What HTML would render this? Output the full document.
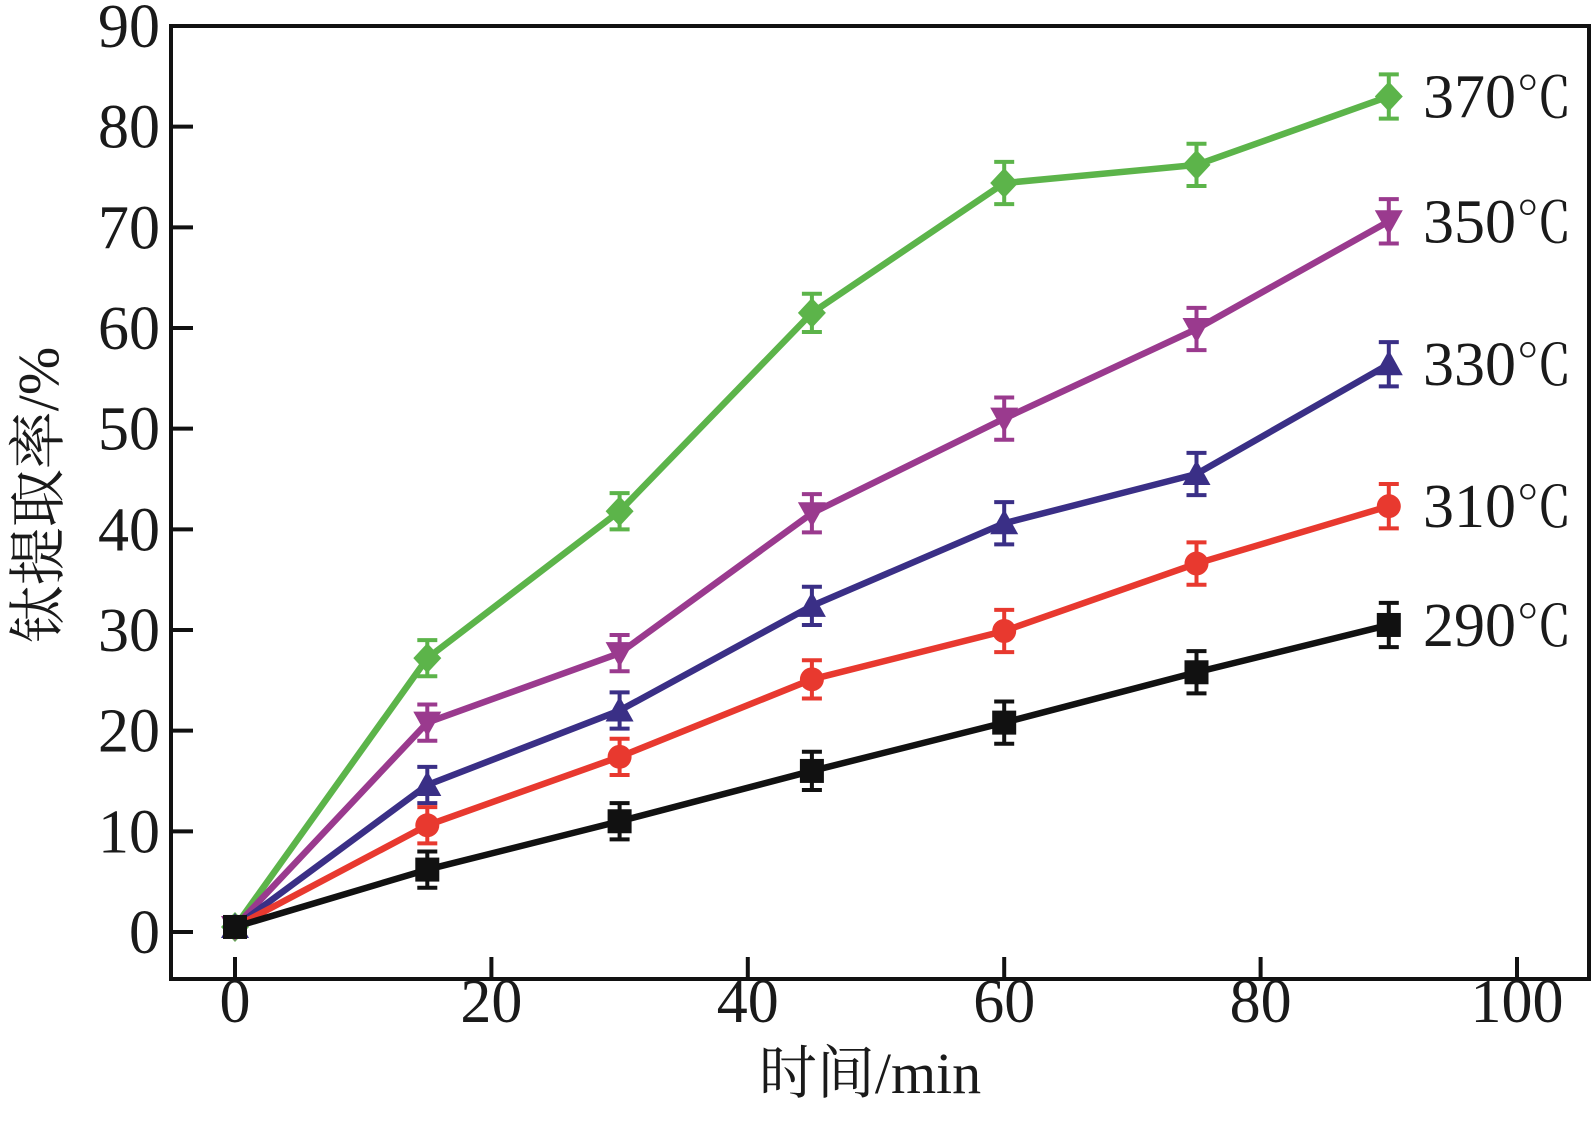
<!DOCTYPE html>
<html><head><meta charset="utf-8"><style>
html,body{margin:0;padding:0;background:#fff;}
svg{display:block;}
text{font-family:"Liberation Serif","Times New Roman",Times,"Noto Serif CJK SC",serif;fill:#1a1a1a;}
.cjk{font-family:"Noto Serif CJK SC","Liberation Serif",serif;}
</style></head><body>
<svg id="chart" width="1592" height="1126" viewBox="0 0 1592 1126">
<g id="axes"></g>
<g id="series"></g>
<g id="labels"></g>
</svg>
<script>
const times = [0, 15, 30, 45, 60, 75, 90];
const seriesNames = ["290", "310", "330", "350", "370"];
const vals290 = [0.5, 6.2, 11.0, 16.0, 20.8, 25.8, 30.5];
const vals310 = [0.5, 10.6, 17.4, 25.1, 29.9, 36.6, 42.3];
const vals330 = [0.5, 14.6, 22.0, 32.4, 40.6, 45.5, 56.4];
const vals350 = [0.5, 20.8, 27.7, 41.6, 51.0, 59.9, 70.6];
const vals370 = [0.5, 27.2, 41.8, 61.5, 74.4, 76.2, 83.0];
const errVals = [0, 1.8, 1.8, 1.9, 2.1, 2.1, 2.2];
const xTicks = [0, 20, 40, 60, 80, 100];
const yTicks = [0, 10, 20, 30, 40, 50, 60, 70, 80, 90];

const NS = "http://www.w3.org/2000/svg";
const X0 = 235, XS = (1517 - 235) / 100;
const Y0 = 932, YS = (932 - 26) / 90;
const xs = v => X0 + v * XS;
const ys = v => Y0 - v * YS;
const SERIF = '"Liberation Serif","Times New Roman",Times,serif';
function mk(tag, attrs, parent) {
  const e = document.createElementNS(NS, tag);
  for (const k in attrs) e.setAttribute(k, attrs[k]);
  parent.appendChild(e);
  return e;
}
const axes = document.getElementById('axes');
const frame = mk('rect', {x:171, y:26, width:1418, height:953, fill:'none', stroke:'#111', 'stroke-width':4}, axes);


yTicks.forEach(t => {
  const l = mk('line', {x1:171, x2:193, y1:ys(t), y2:ys(t), stroke:'#111', 'stroke-width':4}, axes);
  
  
  const tx = mk('text', {x:160, y:ys(t) + 21, 'text-anchor':'end', 'font-size':62, 'font-family':SERIF}, axes);
  tx.textContent = t;
  
  
});
xTicks.forEach(t => {
  const l = mk('line', {x1:xs(t), x2:xs(t), y1:979, y2:957, stroke:'#111', 'stroke-width':4}, axes);
  
  
  const tx = mk('text', {x:xs(t), y:1022, 'text-anchor':'middle', 'font-size':62, 'font-family':SERIF}, axes);
  tx.textContent = t;
  
  
});
const xt = mk('text', {x:870, y:1093, 'text-anchor':'middle', 'font-size':58}, axes);


const xt1 = mk('tspan', {class:'cjk'}, xt); xt1.textContent = '时间';
const xt2 = mk('tspan', {'font-family':SERIF}, xt); xt2.textContent = '/min';
const yt = mk('text', {x:0, y:0, 'text-anchor':'middle', 'font-size':58, transform:'translate(58,495) rotate(-90)'}, axes);


const yt1 = mk('tspan', {class:'cjk'}, yt); yt1.textContent = '钛提取率';
const yt2 = mk('tspan', {'font-family':SERIF}, yt); yt2.textContent = '/%';

const allVals = [vals290, vals310, vals330, vals350, vals370];
const colors = ['#111111', '#e8392f', '#3a2f86', '#9a3a8e', '#5cb44a'];
const shapes = ['square', 'circle', 'tri-up', 'tri-down', 'diamond'];
const sg = document.getElementById('series');
const lg = document.getElementById('labels');
[4, 3, 2, 1, 0].forEach(si => {
  const vals = allVals[si], c = colors[si];
  const g = mk('g', {}, sg);
  
  
  const pts = times.map((t, i) => xs(t) + ',' + ys(vals[i])).join(' ');
  const pl = mk('polyline', {points:pts, fill:'none', stroke:c, 'stroke-width':6.5, 'stroke-linejoin':'round'}, g);
  
  
  times.forEach((t, i) => {
    const cx = xs(t), cy = ys(vals[i]), e = errVals[i];
    if (e > 0) {
      const eb = mk('path', {d:`M${cx},${ys(vals[i]+e)}V${ys(vals[i]-e)}M${cx-10},${ys(vals[i]+e)}h20M${cx-10},${ys(vals[i]-e)}h20`, stroke:c, 'stroke-width':4, fill:'none'}, g);
      
      
    }
    let m, s = 12;
    const sh = shapes[si];
    if (sh === 'square') m = mk('rect', {x:cx-s, y:cy-s, width:2*s, height:2*s, fill:c}, g);
    else if (sh === 'circle') m = mk('circle', {cx:cx, cy:cy, r:12, fill:c}, g);
    else if (sh === 'tri-up') m = mk('polygon', {points:`${cx},${cy-14} ${cx+14},${cy+11} ${cx-14},${cy+11}`, fill:c}, g);
    else if (sh === 'tri-down') m = mk('polygon', {points:`${cx},${cy+14} ${cx+14},${cy-11} ${cx-14},${cy-11}`, fill:c}, g);
    else m = mk('polygon', {points:`${cx},${cy-15} ${cx+14},${cy} ${cx},${cy+15} ${cx-14},${cy}`, fill:c}, g);
    
    
  });
  const last = vals[vals.length - 1];
  const lbl = mk('text', {x:1423, y:ys(last) + 21, 'font-size':62}, lg);
  
  
  const l1 = mk('tspan', {'font-family':SERIF}, lbl); l1.textContent = seriesNames[si];
  const l2 = mk('tspan', {class:'cjk', 'font-size':56}, lbl); l2.textContent = '℃';
});
</script>
</body></html>
